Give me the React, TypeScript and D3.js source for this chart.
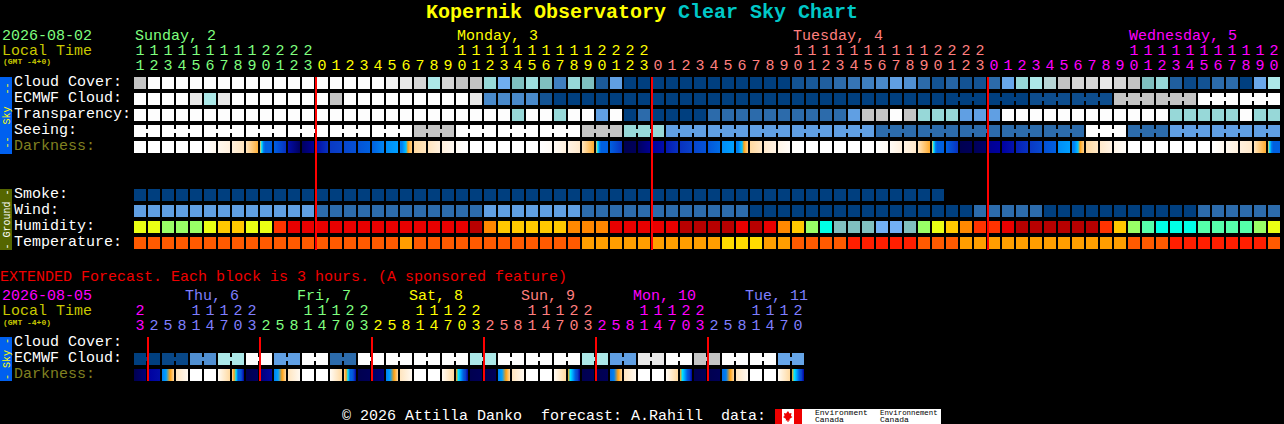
import { useEffect, useRef } from 'react';
import * as d3 from 'd3';

const WIDTH = 1284;
const HEIGHT = 424;
const FONT = '"Liberation Mono", monospace';

// Sky rows, on the chart's 0 (dark blue, good) to 11 (white, bad) colour key
const cloudCover = [
  9, 11, 11, 11, 11, 11, 11, 11, 11, 11, 11, 11, 11, 11, 11, 11, 11, 11, 10.5, 10, 9.5, 8, 9.5, 9, 9, 7, 5, 6, 7.3, 6, 3,
  7, 6, 1.3, 4, 0, 0, 0, 0, 0, 0, 0, 0, 0, 0, 0, 0, 1, 1.2, 1.5, 2, 2.5, 3, 3.3, 4, 3.5, 2, 1, 1.7, 1, 1, 2, 4.5, 7, 8,
  8.5, 9, 9.5, 9.5, 10, 9.5, 9, 6, 7, 1.5, 0.5, 1, 2, 2, 0, 4.6, 8
];
const ecmwfCloud = [
  11, 11, 11, 11, 10, 8, 10, 11, 11, 11, 11, 11, 11, 11, 9, 11, 11, 11, 11, 11, 11, 11, 11, 11, 10, 3.3, 3.3, 3.3, 3.3,
  1, 0, 0, 0, 0, 0, 0, 0, 0, 0, 0, 0, 0, 0, 0, 0, 0, 0, 0, 0, 0, 0, 0, 0, 0, 0, 0, 0, 0, 0, 0, 0, 0, 0, 0, 0.7, 0.7, 0.7,
  0.7, 0.7, 0.7, 9, 9, 9, 9, 9, 9, 11, 11, 11, 11, 11, 11
];
const transparency = [
  11, 11, 11, 11, 11, 11, 11, 11, 11, 11, 11, 11, 11, 11, 11, 11, 11, 11, 11, 11, 11, 11, 11, 11, 11, 11, 11, 7, 11, 11,
  7, 11, 11, 4, 11, 0, 2, 0, 0, 0, 0, 2, 2, 2, 2, 2, 2, 2, 2, 2, 2, 4, 9, 9, 11, 9, 7, 7, 7, 4, 4, 4, 11, 11, 11, 11, 11,
  11, 11, 11, 11, 11, 11, 11, 7, 7, 7, 7, 7, 11, 7, 7
];
const seeing = [
  11, 11, 11, 11, 11, 11, 11, 11, 11, 11, 11, 11, 11, 11, 11, 11, 11, 11, 11, 11, 9, 9, 9, 11, 11, 11, 11, 11, 11, 11, 11,
  11, 9, 9, 9, 7, 7, 7, 4, 4, 4, 4, 4, 4, 4, 4, 4, 4, 4, 4, 4, 4, 4, 2, 2, 2, 2, 2, 2, 2, 2, 2, 2, 2, 2, 2, 2, 2, 11, 11,
  11, 2, 2, 2, 4, 4, 4, 4, 4, 4, 4, 4
];

// Ground rows
const smoke = [
  0, 0, 0, 0, 0, 0, 0, 0, 0, 0, 0, 0, 0, 0, 0, 0, 0, 0, 0, 0, 0, 0, 0, 0, 0, 0, 0, 0, 0, 0, 0, 0, 0, 0, 0, 0, 0, 0, 0, 0,
  0, 0, 0, 0, 0, 0, 0, 0, 0, 0, 0, 0, 0, 0, 0, 0, 0, 0
];
const wind = [
  4, 4, 4, 4, 4, 4, 4, 4, 4, 4, 4, 4, 4, 2, 2, 2, 2, 2, 2, 2, 2, 2, 2, 2, 2, 4, 4, 4, 4, 4, 4, 4, 2, 2, 2, 2, 2, 2, 2, 2,
  2, 2, 2, 2, 0, 0, 0, 0, 0, 0, 0, 0, 0, 0, 0, 0, 0, 0, 0, 0, 2, 2, 2, 2, 2, 0, 0, 0, 0, 0, 0, 0, 0, 0, 0, 0, 2, 2, 2, 2,
  2, 2
];
const humidity = [
  'lime', 'lime', 'green', 'green', 'green', 'lime', 'gold', 'gold', 'lime', 'lime', 'scarlet', 'red', 'red', 'red',
  'red', 'red', 'red', 'red', 'red', 'red', 'red', 'red', 'red', 'red', 'maroon', 'orange', 'gold', 'gold', 'gold',
  'gold', 'gold', 'orange', 'orange', 'orange', 'red', 'red', 'red', 'red', 'red', 'maroon', 'maroon', 'maroon',
  'maroon', 'red', 'maroon', 'red', 'orange', 'gold', 'green', 'cyan', 'teal', 'teal', 'teal', 'sky', 'sky', 'teal',
  'green', 'lime', 'gold', 'orange', 'scarlet', 'scarlet', 'red', 'maroon', 'maroon', 'maroon', 'maroon', 'maroon',
  'maroon', 'scarlet', 'gold', 'green', 'mint', 'cyan', 'cyan', 'cyan', 'mint', 'mint', 'mint', 'mint', 'green', 'lime'
];
const temperature = [
  'warm', 'warm', 'warm', 'warm', 'warm', 'warm', 'warm', 'warm', 'warm', 'warm', 'warm', 'warm', 'warm', 'warm', 'warm',
  'warm', 'warm', 'warm', 'warm', 'mild', 'warm', 'warm', 'warm', 'warm', 'warm', 'warm', 'warm', 'warm', 'warm', 'warm',
  'warm', 'warm', 'mild', 'mild', 'mild', 'mild', 'mild', 'mild', 'mild', 'mild', 'mild', 'mild', 'cool', 'cool', 'cool',
  'mild', 'mild', 'warm', 'warm', 'warm', 'warm', 'hot', 'hot', 'hot', 'hot', 'hot', 'warm', 'warm', 'warm', 'mild',
  'mild', 'mild', 'mild', 'mild', 'mild', 'mild', 'mild', 'mild', 'mild', 'mild', 'mild', 'warm', 'warm', 'warm', 'hot',
  'hot', 'hot', 'hot', 'hot', 'hot', 'hot', 'warm'
];

// Darkness across each block, 0 (night) to 9 (day), read left to right inside the block
const darkness = [
  [9], [9], [9], [9], [9], [9, 8.5], [8.5, 8], [8, 7.5], [7.5, 6.3],
  [6.5, 5, 3.5, 3, 3, 3, 3, 3], [3, 1.8], [1.2, 0.2], [0.2, 0.9],
  [1.2, 1.8], [1.9, 2.1], [2.2, 2.5], [2.6, 3], [3, 3.6], [3.7, 4], [3.5, 3.5, 4, 4.5, 6, 6.5, 6.8], [7, 7.5],
  [7.5, 8], [8, 8.6], [8.7, 9], [9], [9], [9], [9], [9], [9, 8.7], [8.7, 8], [8.2, 7.7], [7.5, 6.2],
  [6.5, 5, 3.5, 3, 3, 3, 3, 3], [3, 1.8], [0, 0.1], [0.2, 0.8], [1, 1.2], [1.4, 1.8], [1.8, 2.1], [2.2, 2.6],
  [2.7, 3.2], [3.7, 4], [3.5, 3.5, 4, 4.5, 6, 6.5, 6.8], [7, 7.6], [7.7, 8.2], [8.3, 8.8], [8.9, 9],
  [9], [9], [9], [9], [9], [9, 8.7], [8.7, 8], [8.2, 7.7], [7.5, 6.2],
  [6.5, 5, 3.5, 3, 3, 3, 3, 3], [3, 1.8], [0, 0.1], [0.1, 0.3], [0.8, 1], [1, 1.3], [1.5, 1.8], [1.9, 2.3], [2.5, 3],
  [3.7, 4], [3.5, 3.5, 4, 4.5, 6, 6.5, 6.8], [7, 7.6], [7.7, 8.2], [8.3, 8.8],
  [9], [9], [9], [9], [9], [9], [9, 8.5], [8.5, 8], [8, 7.7], [7.5, 6.2], [6.5, 5, 3.5, 3, 3, 3, 3, 3]
];

// Extended forecast, one block per 3 hours
const extEcmwf = [
  0, 0, 0.4, 0.4, 3.5, 3.5, 8, 8, 11, 11, 4, 4, 11, 11, 2, 2, 11, 11, 11, 11, 11, 11, 11, 11, 8, 8, 11, 11, 11, 11, 11,
  11, 8, 8, 4, 4, 10, 10, 11, 11, 9, 9, 11, 11, 11, 11, 4.4, 4.4
];
const extDarkness = [
  [0, 0.5], [1, 1.2], [3.5, 4, 6, 7], [7.5, 8.6], [9], [9], [8.7, 7], [7, 6, 5, 3, 3, 2, 1], [0, 0.2], [0.5, 1.1],
  [3.5, 4, 6, 7], [7.5, 8.6], [9], [9], [8.7, 7], [7, 6, 5, 3, 3, 2, 1], [0, 0.1], [0.2, 0.6], [3.5, 4, 6, 7], [7.5, 8.6],
  [9], [9], [8.7, 7], [6, 5, 4, 3, 2, 1], [0, 0.1], [0, 0.1], [3.5, 4, 6, 7], [7.5, 8.6], [9], [9], [8.7, 7],
  [6, 5, 4, 3, 2, 1], [0, 0.1], [0, 0.1], [3.2, 3.5, 6, 7], [7.5, 8.6], [9], [9], [8.7, 7], [6, 5, 4, 3, 2, 1], [0, 0.1],
  [0, 0.1], [3.2, 3.5, 6, 7], [7.5, 8.6], [9], [9], [8.7, 7], [6, 5, 4, 3, 2, 1]
];

// Hour of each block and the day labels above them
const mainHours = [
  11, 12, 13, 14, 15, 16, 17, 18, 19, 20, 21, 22, 23, 0, 1, 2, 3, 4, 5, 6, 7, 8, 9, 10, 11, 12, 13, 14, 15, 16, 17, 18,
  19, 20, 21, 22, 23, 0, 1, 2, 3, 4, 5, 6, 7, 8, 9, 10, 11, 12, 13, 14, 15, 16, 17, 18, 19, 20, 21, 22, 23, 0, 1, 2, 3,
  4, 5, 6, 7, 8, 9, 10, 11, 12, 13, 14, 15, 16, 17, 18, 19, 20
];
const mainDays = ['Sunday, 2', 'Monday, 3', 'Tuesday, 4', 'Wednesday, 5'];
const mainDayColors = ['#7fff7f', '#ffff00', '#ff7f7f', '#ff00ff'];

const extHours = [
  23, 2, 5, 8, 11, 14, 17, 20, 23, 2, 5, 8, 11, 14, 17, 20, 23, 2, 5, 8, 11, 14, 17, 20, 23, 2, 5, 8, 11, 14, 17, 20, 23,
  2, 5, 8, 11, 14, 17, 20, 23, 2, 5, 8, 11, 14, 17, 20
];
const extDays = ['', 'Thu, 6', 'Fri, 7', 'Sat, 8', 'Sun, 9', 'Mon, 10', 'Tue, 11'];
const extDayColors = ['#ff00ff', '#7f7fff', '#7fff7f', '#ffff00', '#ff7f7f', '#ff00ff', '#7f7fff'];

const skyColor = d3
  .scaleLinear<string>()
  .domain([0, 1, 2, 3, 4, 5, 6, 7, 8, 9, 10, 11])
  .range([
    '#003f7f', '#135393', '#2c6bab', '#3f7fbf', '#609fe3', '#70aef0', '#7fbfbf', '#97d8d8', '#ace8e8', '#c4c4c4',
    '#e8e8e8', '#fdfdfd'
  ]);

const darkColor = d3
  .scaleLinear<string>()
  .domain([0, 1, 2, 3, 4, 5, 6, 7, 8, 9])
  .range([
    '#000050', '#0000a0', '#0a3fc8', '#0060e0', '#00a0ff', '#00e5ff', '#ffa010', '#ffd9a0', '#fff0dd', '#ffffff'
  ]);

const humidityColor = d3
  .scaleOrdinal<string, string>()
  .domain(['lime', 'green', 'gold', 'orange', 'scarlet', 'red', 'maroon', 'cyan', 'mint', 'teal', 'sky'])
  .range([
    '#eaff14', '#99ff66', '#ffc800', '#ff8800', '#ff3300', '#e90000', '#b80000', '#00ffe6', '#55ffaa', '#80bfbf',
    '#72b0f5'
  ]);

const temperatureColor = d3
  .scaleOrdinal<string, string>()
  .domain(['hot', 'warm', 'mild', 'cool'])
  .range(['#ff1e00', '#ff5a00', '#ff9e00', '#ffdc00']);

export default function App() {
  const svgRef = useRef<SVGSVGElement>(null);

  useEffect(() => {
    if (!svgRef.current) return;
    const svg = d3.select(svgRef.current);
    svg.selectAll('*').remove();
    const defs = svg.append('defs');

    const cellW = 12;
    const cellH = 12;
    const x = d3.scaleLinear().domain([0, 1]).range([134, 148]);

    const label = (
      tx: number,
      ty: number,
      text: string,
      color: string,
      size = 15,
      anchor = 'start',
      weight = 'normal'
    ) =>
      svg
        .append('text')
        .attr('x', tx)
        .attr('y', ty)
        .attr('fill', color)
        .attr('font-family', FONT)
        .attr('font-size', size)
        .attr('font-weight', weight)
        .attr('text-anchor', anchor)
        .text(text);

    const drawRow = (values: string[], y: number, groupStarts?: (i: number) => boolean) => {
      svg
        .append('g')
        .selectAll('rect')
        .data(values)
        .join('rect')
        .attr('x', (_, i) => x(i))
        .attr('y', y)
        .attr('width', cellW)
        .attr('height', cellH)
        .attr('fill', (d) => d);
      if (!groupStarts) return;
      // joined blocks of the coarser models have a short bridge across the gap
      svg
        .append('g')
        .selectAll('rect')
        .data(values.map((c, i) => ({ c, i })).filter((d) => d.i > 0 && !groupStarts(d.i)))
        .join('rect')
        .attr('x', (d) => x(d.i) - 2)
        .attr('y', y + 4)
        .attr('width', 2)
        .attr('height', 4)
        .attr('fill', (d) => d.c);
    };

    const drawDarkness = (values: number[][], y: number, prefix: string) => {
      values.forEach((stops, i) => {
        const id = `${prefix}-${i}`;
        const grad = defs.append('linearGradient').attr('id', id);
        stops.forEach((v, j) => {
          grad
            .append('stop')
            .attr('offset', stops.length > 1 ? j / (stops.length - 1) : 0)
            .attr('stop-color', darkColor(v));
        });
        svg
          .append('rect')
          .attr('x', x(i))
          .attr('y', y)
          .attr('width', cellW)
          .attr('height', cellH)
          .attr('fill', `url(#${id})`);
      });
    };

    const drawHours = (hours: number[], dayOf: number[], colors: string[], tensY: number, unitsY: number) => {
      hours.forEach((h, i) => {
        const color = colors[dayOf[i]];
        if (h >= 10) label(x(i) + 6, tensY, String(Math.floor(h / 10)), color, 15, 'middle');
        label(x(i) + 6, unitsY, String(h % 10), color, 15, 'middle');
      });
    };

    const sideBar = (y0: number, y1: number, color: string, textColor: string, text: string) => {
      svg.append('rect').attr('x', 0).attr('y', y0).attr('width', 12).attr('height', y1 - y0).attr('fill', color);
      svg
        .append('text')
        .attr('transform', `translate(9.5,${(y0 + y1) / 2}) rotate(-90)`)
        .attr('fill', textColor)
        .attr('font-family', FONT)
        .attr('font-size', 10)
        .attr('text-anchor', 'middle')
        .attr('xml:space', 'preserve')
        .style('white-space', 'pre')
        .text(text);
    };

    // Title
    const title = svg
      .append('text')
      .attr('x', 426)
      .attr('y', 18)
      .attr('font-family', FONT)
      .attr('font-size', 20)
      .attr('font-weight', 'bold');
    title.append('tspan').attr('fill', '#ffff00').text('Kopernik Observatory ');
    title.append('tspan').attr('fill', '#00c8c8').text('Clear Sky Chart');

    // Main header
    const mainDayOf: number[] = [];
    mainHours.forEach((h, i) => mainDayOf.push(i === 0 ? 0 : mainDayOf[i - 1] + (h === 0 ? 1 : 0)));
    label(2, 40, '2026-08-02', '#7fff7f');
    label(2, 55, 'Local Time', '#c8c800');
    label(3, 64, '(GMT -4+0)', '#c8c800', 8, 'start', 'bold');
    mainDays.forEach((name, d) => {
      const col = mainHours.findIndex((h, i) => mainDayOf[i] === d && h >= 10);
      label(x(col) + 1, 40, name, mainDayColors[d]);
    });
    drawHours(mainHours, mainDayOf, mainDayColors, 55, 70);

    // Main sky rows
    const skyLabels = ['Cloud Cover:', 'ECMWF Cloud:', 'Transparency:', 'Seeing:'];
    const skyRows = [cloudCover, ecmwfCloud, transparency, seeing];
    skyRows.forEach((row, r) => {
      const y = 77 + r * 16;
      label(14, y + 9, skyLabels[r], '#ffffff');
      let starts: ((i: number) => boolean) | undefined;
      if (r === 1) starts = (i) => i < 58 || i % 3 === 1;
      if (r === 3) starts = (i) => i % 3 === 2;
      drawRow(row.map((v) => skyColor(v)), y, starts);
    });
    label(14, 150, 'Darkness:', '#808020');
    drawDarkness(darkness, 141, 'dark');
    sideBar(77, 154, '#0060f0', '#ffff00', '--  Sky  --');

    // Ground rows
    const groundLabels = ['Smoke:', 'Wind:', 'Humidity:', 'Temperature:'];
    const groundRows = [
      smoke.map((v) => skyColor(v)),
      wind.map((v) => skyColor(v)),
      humidity.map((v) => humidityColor(v)),
      temperature.map((v) => temperatureColor(v))
    ];
    groundRows.forEach((row, r) => {
      const y = 189 + r * 16;
      label(14, y + 9, groundLabels[r], '#ffffff');
      drawRow(row, y);
    });
    sideBar(189, 250, '#556600', '#ffffff', '- Ground -');

    // Midnight lines over the main table
    svg
      .append('g')
      .selectAll('rect')
      .data(mainHours.map((h, i) => ({ h, i })).filter((d) => d.h === 0))
      .join('rect')
      .attr('x', (d) => x(d.i) - 1)
      .attr('y', 77)
      .attr('width', 2)
      .attr('height', 173)
      .attr('fill', '#ff0000');

    // Extended forecast
    label(0, 281, 'EXTENDED Forecast. Each block is 3 hours. (A sponsored feature)', '#f00000');
    label(2, 300, '2026-08-05', '#ff00ff');
    label(2, 315, 'Local Time', '#c8c800');
    label(3, 325, '(GMT -4+0)', '#c8c800', 8, 'start', 'bold');
    const extDayOf: number[] = [];
    extHours.forEach((h, i) => extDayOf.push(i === 0 ? 0 : extDayOf[i - 1] + (h < extHours[i - 1] ? 1 : 0)));
    extDays.forEach((name, d) => {
      if (!name) return;
      const col = extDayOf.indexOf(d);
      label(x(col) + 37, 300, name, extDayColors[d]);
    });
    drawHours(extHours, extDayOf, extDayColors, 315, 330);

    label(14, 346, 'Cloud Cover:', '#ffffff');
    label(14, 362, 'ECMWF Cloud:', '#ffffff');
    label(14, 378, 'Darkness:', '#808020');
    drawRow(extEcmwf.map((v) => skyColor(v)), 353, (i) => i % 2 === 0);
    drawDarkness(extDarkness, 369, 'ext');
    sideBar(337, 381, '#0060f0', '#ffff00', '- Sky -');

    svg
      .append('g')
      .selectAll('rect')
      .data(extHours.map((h, i) => ({ h, i })).filter((d) => d.i > 0 && extDayOf[d.i] !== extDayOf[d.i - 1]))
      .join('rect')
      .attr('x', (d) => x(d.i) - 1)
      .attr('y', 337)
      .attr('width', 2)
      .attr('height', 44)
      .attr('fill', '#ff0000');

    // Footer and sponsor logo
    label(342, 420, '\u00a9 2026 Attilla Danko', '#ffffff');
    label(541, 420, 'forecast: A.Rahill', '#ffffff');
    label(721, 420, 'data:', '#ffffff');
    svg.append('rect').attr('x', 775).attr('y', 409).attr('width', 166).attr('height', 15).attr('fill', '#ffffff');
    svg.append('rect').attr('x', 775).attr('y', 409).attr('width', 7).attr('height', 15).attr('fill', '#ee0000');
    svg.append('rect').attr('x', 794).attr('y', 409).attr('width', 8).attr('height', 15).attr('fill', '#ee0000');
    svg
      .append('path')
      .attr('d', 'M788 411l1.5 2.5 2-.5-.5 3 1.5 1-3 2 .3 1.5H788.5v1.5h-1V420.500H785.700l.3-1.500-3-2 1.500-1-.5-3 2 .5z')
      .attr('fill', '#ee0000');
    label(815, 415, 'Environment', '#000000', 8);
    label(815, 422, 'Canada', '#000000', 8);
    label(880, 415, 'Environnement', '#000000', 7.4);
    label(880, 422, 'Canada', '#000000', 8);
  }, []);

  return (
    <svg
      ref={svgRef}
      width={WIDTH}
      height={HEIGHT}
      style={{ position: 'absolute', left: 0, top: 0, background: '#000000' }}
    />
  );
}
